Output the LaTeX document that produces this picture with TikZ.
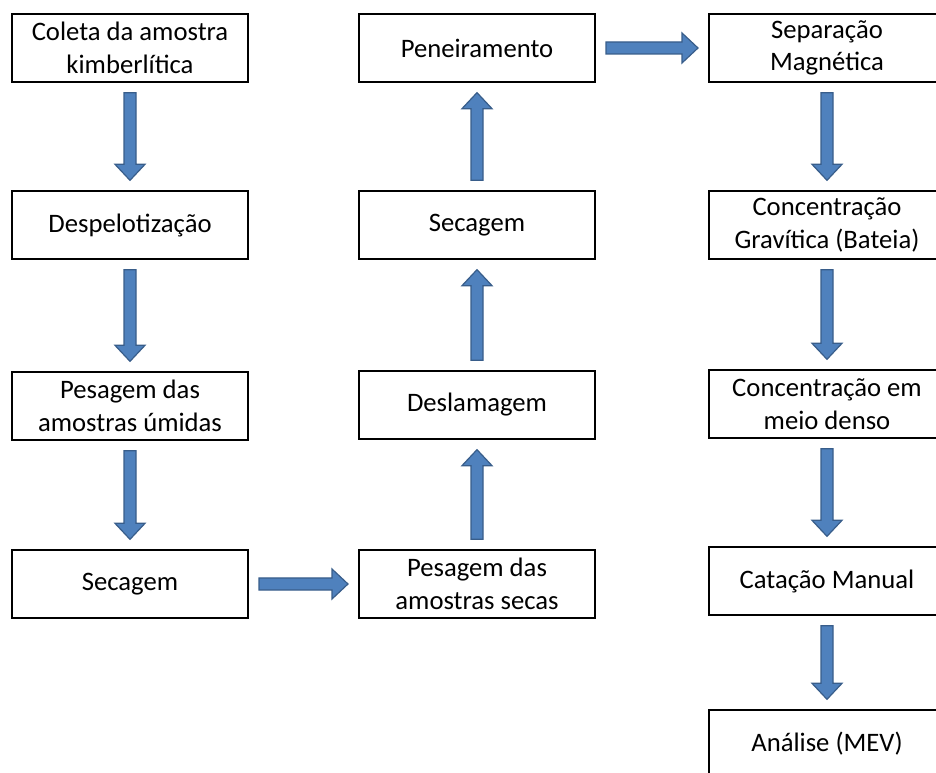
\documentclass[tikz,border=0pt]{standalone}
\usepackage{fontspec}
\setmainfont{Carlito}
\usetikzlibrary{calc}
\definecolor{arrowfill}{HTML}{4F81BD}
\definecolor{arrowedge}{HTML}{385D8A}
\tikzset{
  stepbox/.style={draw, line width=1.5pt, minimum width=177pt, minimum height=50.5pt,
    inner sep=0pt, align=center, font=\fontsize{20}{24.5}\selectfont},
  blockarrow/.style={fill=arrowfill, draw=arrowedge, line width=0.9pt, line join=miter}
}
% block arrow between two node anchors
\newcommand{\blockarrow}[2]{%
  \coordinate (bs) at ($(#1)!7.5pt!(#2)$);
  \coordinate (be) at ($(#2)!7.5pt!(#1)$);
  \coordinate (bh) at ($(be)!12pt!(bs)$);
  \draw[blockarrow] ($(bs)!4.5pt!90:(be)$) -- ($(bh)!4.5pt!-90:(bs)$)
    -- ($(bh)!11.25pt!-90:(bs)$) -- (be) -- ($(bh)!11.25pt!90:(bs)$)
    -- ($(bh)!4.5pt!90:(bs)$) -- ($(bs)!4.5pt!-90:(be)$) -- cycle;}
\begin{document}
\begin{tikzpicture}[x=0.75pt, y=-0.75pt]
\useasboundingbox (0,0) rectangle (936,773);
\clip (0,0) rectangle (936,773);
% first column
\node[stepbox] (coleta) at (130,48) {Coleta da amostra\\kimberlítica};
\node[stepbox] (despel) at (130,225) {Despelotização};
\node[stepbox] (pesumid) at (130,406) {Pesagem das\\amostras úmidas};
\node[stepbox] (secag1) at (130,584) {Secagem};
% second column
\node[stepbox] (pesseca) at (477,584) {Pesagem das\\amostras secas};
\node[stepbox] (deslam) at (477,405) {Deslamagem};
\node[stepbox] (secag2) at (477,225) {Secagem};
\node[stepbox] (peneir) at (477,48) {Peneiramento};
% third column
\node[stepbox] (sepmag) at (827,48) {Separação\\Magnética};
\node[stepbox] (gravit) at (827,225) {Concentração\\Gravítica (Bateia)};
\node[stepbox] (meiodenso) at (827,404) {Concentração em\\meio denso};
\node[stepbox] (catacao) at (827,581) {Catação Manual};
\node[stepbox] (analise) at (827,744) {Análise (MEV)};
% arrows
\blockarrow{coleta.south}{despel.north}
\blockarrow{despel.south}{pesumid.north}
\blockarrow{pesumid.south}{secag1.north}
\blockarrow{secag1.east}{pesseca.west}
\blockarrow{pesseca.north}{deslam.south}
\blockarrow{deslam.north}{secag2.south}
\blockarrow{secag2.north}{peneir.south}
\blockarrow{peneir.east}{sepmag.west}
\blockarrow{sepmag.south}{gravit.north}
\blockarrow{gravit.south}{meiodenso.north}
\blockarrow{meiodenso.south}{catacao.north}
\blockarrow{catacao.south}{analise.north}
\end{tikzpicture}
\end{document}
